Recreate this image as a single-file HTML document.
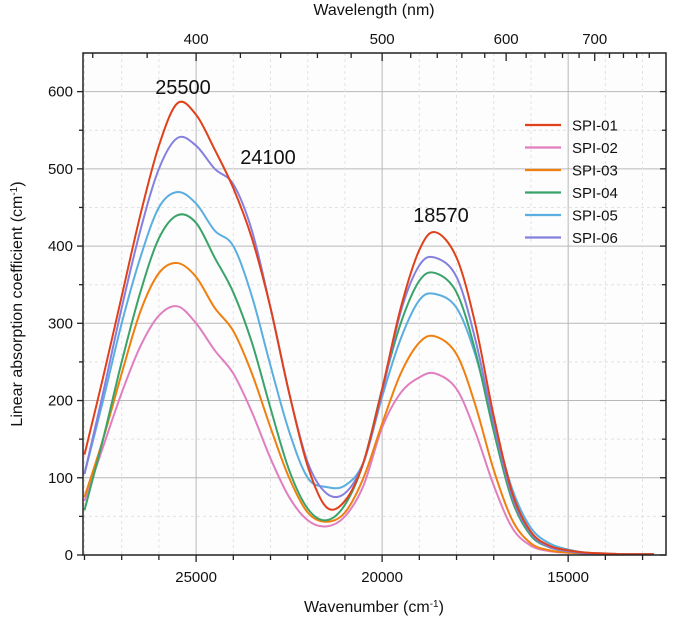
<!DOCTYPE html>
<html><head><meta charset="utf-8"><style>
body{margin:0;background:#fff;font-family:"Liberation Sans",Arial,sans-serif}
svg text{font-family:"Liberation Sans",Arial,sans-serif;fill:#111}
</style></head><body>
<svg id="chart" width="685" height="619" viewBox="0 0 685 619" xmlns="http://www.w3.org/2000/svg">
<rect x="0" y="0" width="685" height="619" fill="#fff"/>
<rect x="83" y="53" width="583" height="502" fill="#fdfdfd"/>
<g id="grid"></g>
<g id="series"></g>
<g id="axes"></g>
<text x="183" y="94" font-size="20" text-anchor="middle">25500</text>
<text x="268" y="164" font-size="20" text-anchor="middle">24100</text>
<text x="441" y="222" font-size="20" text-anchor="middle">18570</text>
<text x="374" y="15" font-size="16" text-anchor="middle">Wavelength (nm)</text>
<text x="374" y="612" font-size="16" text-anchor="middle">Wavenumber (cm<tspan baseline-shift="super" font-size="10">-1</tspan>)</text>
<text transform="translate(22,304) rotate(-90)" font-size="16" text-anchor="middle">Linear absorption coefficient (cm<tspan baseline-shift="super" font-size="10">-1</tspan>)</text>
<g id="legend"></g>
</svg>
<script>
const xs=[28000,27500,27000,26500,26000,25500,25000,24500,24000,23500,23000,22500,22000,21500,21000,20500,20000,19500,19000,18570,18000,17500,17000,16500,16000,15500,15000,14500,14000,13500,13000,12700];
const seriesNames=["SPI-01","SPI-02","SPI-03","SPI-04","SPI-05","SPI-06"];
const spi01=[130,230,335,440,530,585,570,525,475,410,320,210,115,62,70,120,215,320,395,418,385,300,180,80,30,12,6,3,2,1,1,1];
const spi02=[70,140,210,270,310,322,300,265,235,185,125,75,45,37,50,90,165,210,230,235,215,160,90,35,12,5,3,2,1,1,1,1];
const spi03=[75,150,235,315,365,378,360,320,290,235,165,100,55,43,55,100,170,235,275,283,260,195,110,45,15,6,3,2,1,1,1,1];
const spi04=[58,150,250,340,410,440,430,385,340,275,190,110,60,45,65,120,215,300,355,365,340,265,160,70,25,10,5,2,1,1,1,1];
const spi05=[105,200,300,385,450,470,455,420,400,335,245,160,100,88,90,120,205,280,330,338,320,260,170,85,35,15,7,3,2,1,1,1];
const spi06=[105,210,320,420,500,540,530,500,480,420,320,210,120,80,80,120,210,315,375,385,360,280,170,75,28,10,5,2,1,1,1,1];
const colors=["#e0401a","#e07fc0","#f07f0e","#3aa36a","#5aaee0","#8580e0"];
const xTicks=[25000,20000,15000];
const yTicks=[0,100,200,300,400,500,600];
const topTicks=[400,500,600,700];
const NS="http://www.w3.org/2000/svg";
const L=83,R=666,T=53,B=555,XMAX=28040,XMIN=12370,YMAX=650;
const sx=v=>L+(XMAX-v)/(XMAX-XMIN)*(R-L);
const sy=v=>B-v/YMAX*(B-T);
function mk(tag,attrs,parent){const e=document.createElementNS(NS,tag);for(const k in attrs)e.setAttribute(k,attrs[k]);parent.appendChild(e);return e;}
const grid=document.getElementById('grid'),axes=document.getElementById('axes'),ser=document.getElementById('series'),leg=document.getElementById('legend');
for(let v=50;v<YMAX;v+=50){const g=mk('line',{x1:L,x2:R,y1:sy(v),y2:sy(v),stroke:v%100?'#e2e2e2':'#b8b8b8','stroke-width':1,'stroke-dasharray':v%100?'3,3':''},grid);

}
for(let v=13000;v<=28000;v+=1000){const g=mk('line',{x1:sx(v),x2:sx(v),y1:T,y2:B,stroke:v%5000?'#e2e2e2':'#b8b8b8','stroke-width':1,'stroke-dasharray':v%5000?'3,3':''},grid);


const t=mk('line',{x1:sx(v),x2:sx(v),y1:B,y2:B+(v%5000?5:7),stroke:'#222','stroke-width':1.3},axes);

}
for(let nm=360;nm<=780;nm+=20){const wn=1e7/nm;if(wn>XMAX||wn<XMIN)continue;const t=mk('line',{x1:sx(wn),x2:sx(wn),y1:T,y2:T+(nm%100?5:8),stroke:'#222','stroke-width':1.3},axes);

}
topTicks.forEach(nm=>{const t=mk('text',{x:sx(1e7/nm),y:44,'font-size':15,'text-anchor':'middle'},axes);t.textContent=nm;

});
xTicks.forEach(v=>{const t=mk('text',{x:sx(v),y:582,'font-size':15,'text-anchor':'middle'},axes);t.textContent=v;

});
for(let v=0;v<YMAX;v+=50){const t=mk('line',{x1:L-(v%100?4:6),x2:L,y1:sy(v),y2:sy(v),stroke:'#222','stroke-width':1.3},axes);


mk('line',{x1:R,x2:R-(v%100?4:6),y1:sy(v),y2:sy(v),stroke:'#222','stroke-width':1.3},axes);}
yTicks.forEach(v=>{const t=mk('text',{x:L-10,y:sy(v)+5,'font-size':15,'text-anchor':'end'},axes);t.textContent=v;

});
const fr=mk('rect',{x:L,y:T,width:R-L,height:B-T,fill:'none',stroke:'#222','stroke-width':1.5},axes);


function path(vals){const p=xs.map((x,i)=>[sx(x),sy(vals[i])]);let d='M'+p[0][0]+','+p[0][1];
for(let i=0;i<p.length-1;i++){const p0=p[Math.max(0,i-1)],p1=p[i],p2=p[i+1],p3=p[Math.min(p.length-1,i+2)];
d+=' C'+(p1[0]+(p2[0]-p0[0])/6)+','+(p1[1]+(p2[1]-p0[1])/6)+' '+(p2[0]-(p3[0]-p1[0])/6)+','+(p2[1]-(p3[1]-p1[1])/6)+' '+p2[0]+','+p2[1];}return d;}
const all=[spi01,spi02,spi03,spi04,spi05,spi06];
[4,1,2,3,5,0].forEach(i=>{const e=mk('path',{d:path(all[i]),fill:'none',stroke:colors[i],'stroke-width':2},ser);

});
seriesNames.forEach((n,i)=>{const y=125+i*22.5;
const l=mk('line',{x1:525,x2:561,y1:y,y2:y,stroke:colors[i],'stroke-width':2.2},leg);


const t=mk('text',{x:572,y:y+5.5,'font-size':15},leg);t.textContent=n;

});
</script>
</body></html>
